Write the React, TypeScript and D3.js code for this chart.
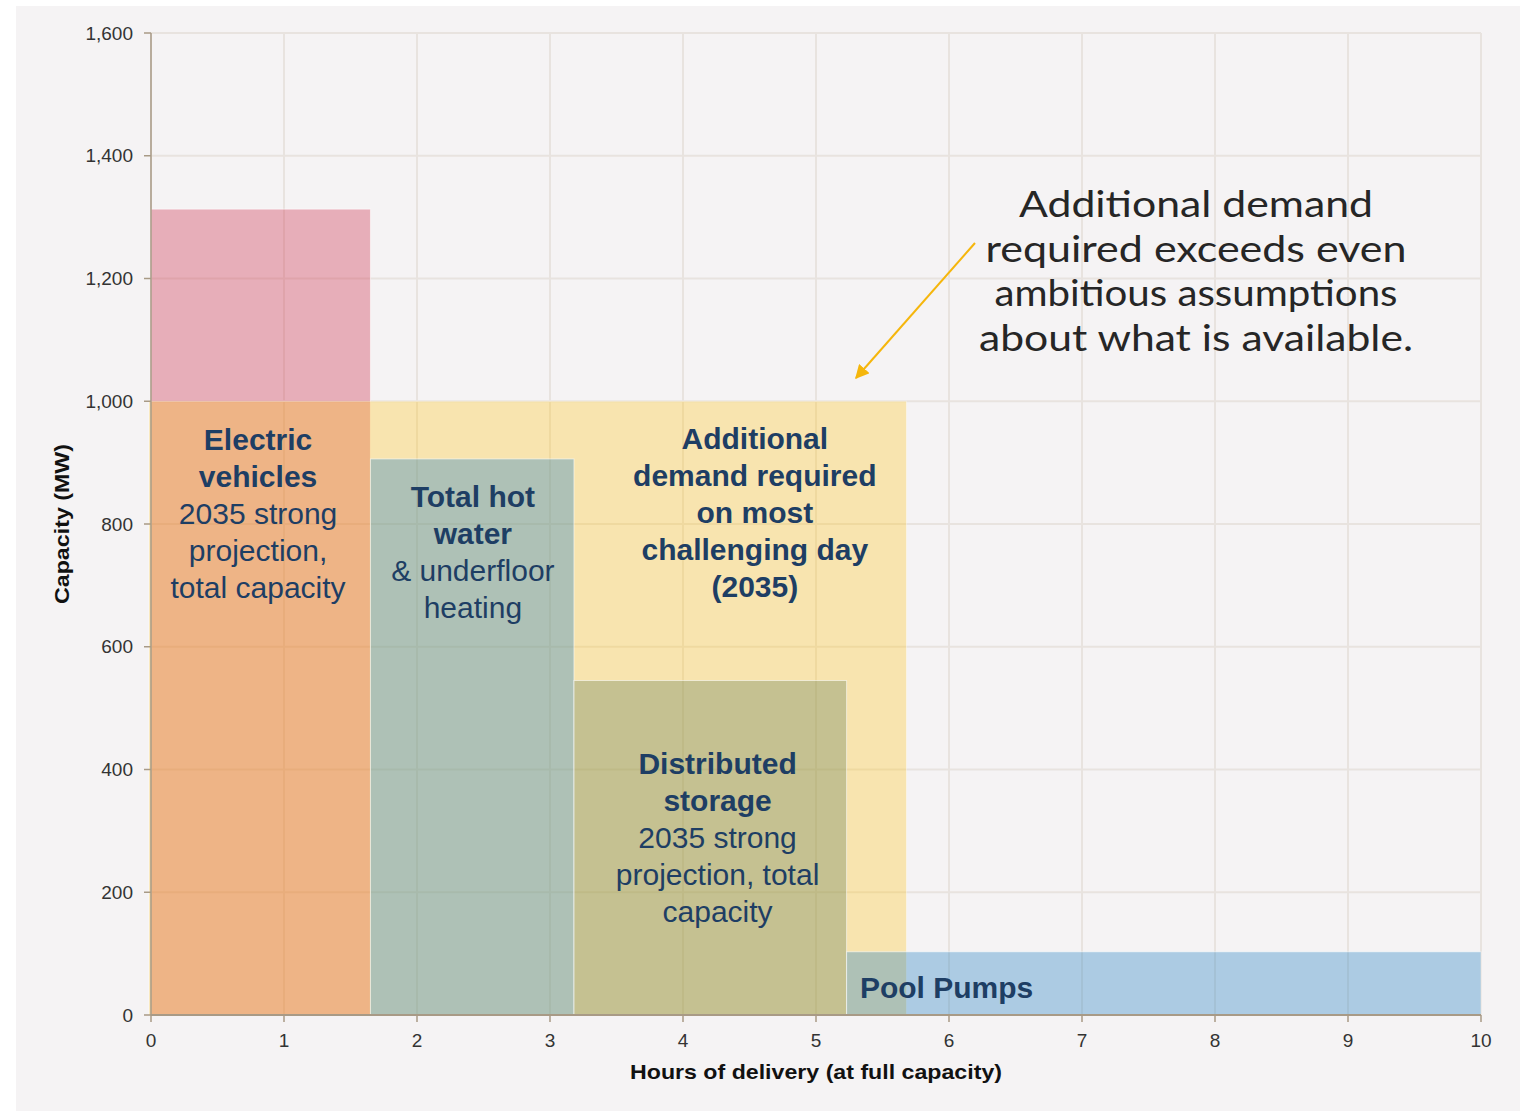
import React from "react";
import * as d3 from "d3";

// ---------- data ----------
const supplyNames = ["Electric vehicles", "Total hot water", "Distributed storage", "Pool Pumps"];
const supplyCapacityMW = [1313, 906, 545, 103];
const supplyHours = [1.65, 1.53, 2.05, 4.77];
const demandNames = ["Additional demand required on most challenging day (2035)"];
const demandCapacityMW = [1000];
const demandHours = [5.68];
const xTickValues = [0, 1, 2, 3, 4, 5, 6, 7, 8, 9, 10];
const yTickValues = [0, 200, 400, 600, 800, 1000, 1200, 1400, 1600];

const xAxisTitle = "Hours of delivery (at full capacity)";
const yAxisTitle = "Capacity (MW)";
const noteLines = [
  "Additional demand",
  "required exceeds even",
  "ambitious assumptions",
  "about what is available.",
];

// ---------- styles ----------
const W = 1529;
const H = 1111;
const M = { left: 151, right: 1481, top: 33, bottom: 1015 };
const supplyFill = ["rgb(205,46,75)", "rgb(36,129,195)", "rgb(103,129,90)", "rgb(36,129,195)"];
const supplyOpacity = [0.35, 0.35, 0.35, 0.35];
const demandFill = "rgb(255,196,17)";
const demandOpacity = 0.3;
const textNavy = "#1e3e64";
const axisColor = "#a89a86";
const gridColor = "#e8e3df";
const tickFont = "'Liberation Sans', Arial, sans-serif";
const noteWidths = [354, 421, 403, 434];

type Line = { t: string; b: boolean };
type Label = { x: number; y: number; anchor: "middle" | "start"; lines: Line[] };

export default function App() {
  const x = d3.scaleLinear().domain([0, 10]).range([M.left, M.right]);
  const y = d3.scaleLinear().domain([0, 1600]).range([M.bottom, M.top]);
  const fmt = d3.format(",");

  const starts: number[] = [];
  supplyHours.reduce((acc, h) => {
    starts.push(acc);
    return acc + h;
  }, 0);

  const bars = supplyNames.map((name, i) => ({
    name,
    x0: starts[i],
    x1: Math.min(10, starts[i] + supplyHours[i]),
    v: supplyCapacityMW[i],
    fill: supplyFill[i],
    op: supplyOpacity[i],
  }));

  const lh = 37;
  const labels: Label[] = [
    {
      x: 0.805, y: 938, anchor: "middle",
      lines: [
        { t: "Electric", b: true },
        { t: "vehicles", b: true },
        { t: "2035 strong", b: false },
        { t: "projection,", b: false },
        { t: "total capacity", b: false },
      ],
    },
    {
      x: 2.42, y: 845, anchor: "middle",
      lines: [
        { t: "Total hot", b: true },
        { t: "water", b: true },
        { t: "& underfloor", b: false },
        { t: "heating", b: false },
      ],
    },
    {
      x: 4.54, y: 940, anchor: "middle",
      lines: [
        { t: "Additional", b: true },
        { t: "demand required", b: true },
        { t: "on most", b: true },
        { t: "challenging day", b: true },
        { t: "(2035)", b: true },
      ],
    },
    {
      x: 4.26, y: 409, anchor: "middle",
      lines: [
        { t: "Distributed", b: true },
        { t: "storage", b: true },
        { t: "2035 strong", b: false },
        { t: "projection, total", b: false },
        { t: "capacity", b: false },
      ],
    },
    {
      x: 5.33, y: 44, anchor: "start",
      lines: [{ t: "Pool Pumps", b: true }],
    },
  ];

  const renderBar = (b: { x0: number; x1: number; v: number; fill: string; op: number }, key: string) => (
    <rect
      key={key}
      x={x(b.x0)}
      y={y(b.v)}
      width={x(b.x1) - x(b.x0)}
      height={y(0) - y(b.v)}
      fill={b.fill}
      fillOpacity={b.op}
      stroke="#ffffff"
      strokeOpacity={0.55}
      strokeWidth={1}
    />
  );

  return (
    <svg
      width={W}
      height={H}
      style={{ position: "absolute", left: 0, top: 0, display: "block" }}
    >
      <rect x={0} y={0} width={W} height={H} fill="#ffffff" />
      <rect x={16} y={6} width={1504} height={H - 6} fill="#f5f3f4" />

      {/* grid */}
      {xTickValues.map((t) => (
        <line key={"gx" + t} x1={x(t)} x2={x(t)} y1={y(1600)} y2={y(0)} stroke={gridColor} strokeWidth={2} />
      ))}
      {yTickValues.map((t) => (
        <line key={"gy" + t} x1={x(0)} x2={x(10)} y1={y(t)} y2={y(t)} stroke={gridColor} strokeWidth={2} />
      ))}

      {/* EV beneath demand */}
      {renderBar(bars[0], "b0")}
      {/* demand */}
      {demandNames.map((n, i) => (
        <rect
          key={n}
          x={x(0) - 2}
          y={y(demandCapacityMW[i])}
          width={x(demandHours[i]) - x(0) + 2}
          height={y(0) - y(demandCapacityMW[i])}
          fill={demandFill}
          fillOpacity={demandOpacity}
          stroke="#ffffff"
          strokeOpacity={0.4}
          strokeWidth={1}
        />
      ))}
      {bars.slice(1).map((b, i) => renderBar(b, "b" + (i + 1)))}

      {/* axes */}
      <line x1={x(0)} x2={x(0)} y1={y(1600)} y2={y(0)} stroke={axisColor} strokeWidth={1.5} />
      <line x1={x(0)} x2={x(10)} y1={y(0)} y2={y(0)} stroke={axisColor} strokeWidth={2} />
      {yTickValues.map((t) => (
        <g key={"yt" + t}>
          <line x1={x(0) - 7} x2={x(0)} y1={y(t)} y2={y(t)} stroke={axisColor} strokeWidth={1.5} />
          <text
            x={x(0) - 18}
            y={y(t)}
            dy="0.35em"
            textAnchor="end"
            fontFamily={tickFont}
            fontSize={19}
            fill="#333333"
          >
            {fmt(t)}
          </text>
        </g>
      ))}
      {xTickValues.map((t) => (
        <g key={"xt" + t}>
          <line x1={x(t)} x2={x(t)} y1={y(0)} y2={y(0) + 7} stroke={axisColor} strokeWidth={1.5} />
          <text
            x={x(t)}
            y={y(0) + 25}
            dy="0.35em"
            textAnchor="middle"
            fontFamily={tickFont}
            fontSize={19}
            fill="#333333"
          >
            {t}
          </text>
        </g>
      ))}
      <text
        x={(x(0) + x(10)) / 2}
        y={1072}
        dy="0.35em"
        textAnchor="middle"
        fontFamily={tickFont}
        fontWeight="bold"
        fontSize={21}
        textLength={372}
        lengthAdjust="spacingAndGlyphs"
        fill="#111111"
      >
        {xAxisTitle}
      </text>
      <text
        transform={`translate(62, ${(y(0) + y(1600)) / 2}) rotate(-90)`}
        dy="0.35em"
        textAnchor="middle"
        fontFamily={tickFont}
        fontWeight="bold"
        fontSize={21}
        textLength={160}
        lengthAdjust="spacingAndGlyphs"
        fill="#111111"
      >
        {yAxisTitle}
      </text>

      {/* bar labels */}
      {labels.map((lab, li) => (
        <text
          key={"lab" + li}
          x={x(lab.x)}
          y={y(lab.y)}
          textAnchor={lab.anchor}
          fontFamily={tickFont}
          fontSize={30}
          fill={textNavy}
        >
          {lab.lines.map((ln, k) => (
            <tspan key={k} x={x(lab.x)} y={y(lab.y) + k * lh} dy="0.35em" fontWeight={ln.b ? "bold" : "normal"}>
              {ln.t}
            </tspan>
          ))}
        </text>
      ))}

      {/* annotation */}
      <defs>
        <marker id="arrowHead" viewBox="0 0 10 10" refX="9" refY="5" markerWidth="7" markerHeight="7" orient="auto">
          <path d="M0,0 L10,5 L0,10 z" fill="#f5b60c" />
        </marker>
      </defs>
      <line x1={975} y1={243} x2={856} y2={378} stroke="#f5b60c" strokeWidth={2} markerEnd="url(#arrowHead)" />
      {noteLines.map((l, i) => (
        <text
          key={"note" + i}
          x={1196}
          y={217 + i * 44.5}
          textAnchor="middle"
          fontFamily="Lato, 'DejaVu Sans', sans-serif"
          fontSize={36}
          textLength={noteWidths[i]}
          lengthAdjust="spacingAndGlyphs"
          fill="#262626"
        >
          {l}
        </text>
      ))}
    </svg>
  );
}
